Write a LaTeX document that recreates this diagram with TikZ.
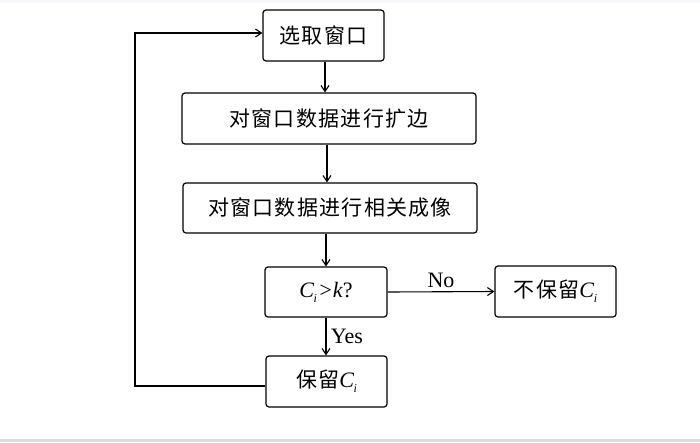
\documentclass[tikz,border=0pt]{standalone}
\usepackage{fontspec}
\setmainfont{Liberation Serif}
\newfontfamily\cjk[LetterSpace=6]{Noto Sans CJK SC}
\usetikzlibrary{arrows.meta}
\newcommand{\myCi}{{\fontsize{22}{24}\selectfont\textit{C}}\kern-0.5pt\raisebox{-5pt}{\fontsize{12}{12}\selectfont\textit{i}}}
\begin{document}
\begin{tikzpicture}[x=1pt,y=-1pt,
  box/.style={draw,line width=1.2pt,rounded corners=3pt,inner sep=0pt,fill=white,
    font=\fontsize{21}{24}\selectfont},
  arr/.style={line width=1.1pt,-{Straight Barb[length=6pt,width=8pt,line width=1.1pt]}},
  lbl/.style={font=\fontsize{22}{24}\selectfont}]
\useasboundingbox (0,0) rectangle (700,442);
\fill[white] (0,0) rectangle (700,442);
\fill[black!12!blue!3!white] (0,0) rectangle (700,3);
\fill[black!14!white] (0,439) rectangle (700,442);
\node[box,minimum width=121pt,minimum height=51pt] (b1) at (323.5,35.5) {\cjk 选取窗口};
\node[box,minimum width=294pt,minimum height=51pt] (b2) at (329,118.5) {\cjk 对窗口数据进行扩边};
\node[box,minimum width=294pt,minimum height=50pt] (b3) at (330,208) {\cjk 对窗口数据进行相关成像};
\node[box,minimum width=122pt,minimum height=50pt] (b4) at (326,292) {\myCi\kern1pt{\fontsize{22}{24}\selectfont\textit{>k}?}};
\node[box,minimum width=121pt,minimum height=51pt] (b5) at (555.5,291.5) {{\cjk 不保留}\myCi};
\node[box,minimum width=121pt,minimum height=51pt] (b6) at (326.5,381.5) {{\cjk 保留}\myCi};
\coordinate (c1) at (135,386);
\coordinate (c2) at (135,33);
\draw[arr] (b1.south -| 325,0) -- (b2.north -| 325,0);
\draw[arr] (b2.south -| 327,0) -- (b3.north -| 327,0);
\draw[arr] (b3.south -| b4.north) -- (b4.north);
\draw[arr] (b4.east) -- node[lbl,above=0pt] {No} (b5.west);
\draw[arr] (b4.south) -- node[lbl,right=1pt] {Yes} (b6.north -| b4.south);
\draw[arr] (b6.west |- c1) -- (c1) -- (c2) -- (b1.west |- c2);
\end{tikzpicture}
\end{document}
